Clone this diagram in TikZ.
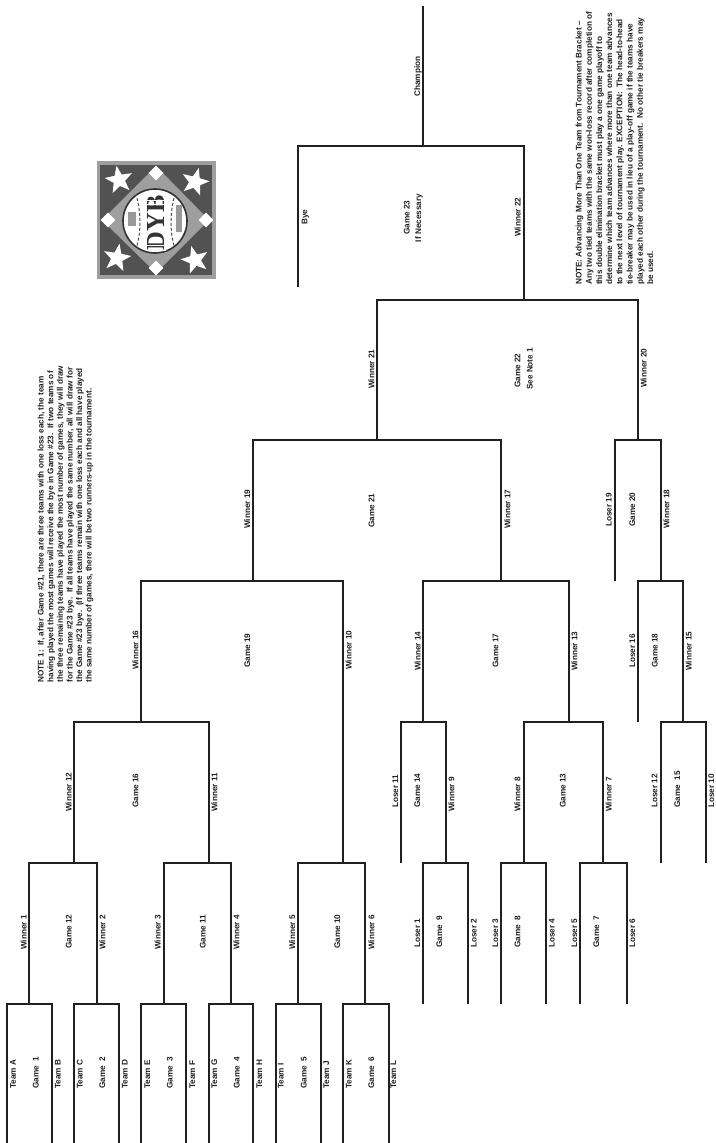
\documentclass[tikz,border=0pt]{standalone}
\usepackage{fontspec}
\setmainfont{Liberation Sans}
\newfontfamily\logofont{Liberation Serif}
\usetikzlibrary{shapes.geometric}
\definecolor{tinta}{HTML}{231F20}

\begin{document}
\begin{tikzpicture}[
    x=1pt, y=-1pt,
    font=\fontsize{8.2}{10}\selectfont\bfseries,
    linea/.style={draw=tinta, line width=1.7pt, line join=miter},
    rotulo/.style={rotate=90, anchor=base west, inner sep=0pt, text=tinta},
    nota/.style={rotate=90, anchor=north west, inner sep=0pt, align=left, text=tinta,
                 font=\fontsize{8.2}{#1}\selectfont\bfseries},
    estrella/.style={star, star points=5, star point ratio=2.4, fill=white, inner sep=0pt,
                     minimum size=29pt},
    base/.style={diamond, fill=white, inner sep=0pt, minimum size=15pt}
  ]
  \useasboundingbox (0,0) rectangle (715,1143);

  % --- Juegos ---
  \foreach \n/\x/\y in {
      g1/29/1004, g2/97/1004, g3/164/1004, g4/231/1004, g5/298/1004, g6/365/1004,
      g9/446/863, g8/524/863, g7/603/863, g15/683/722,
      g12/74/863, g11/209/863, g10/343/863, g16/141/722, g19/253/581,
      g14/423/722, g13/569/722, g17/501/581, g18/661/581, g20/638/440,
      g21/377/440, g22/524/300, g23/423/146}
    \coordinate (\n) at (\x,\y);

  % --- Extremos libres ---
  \foreach \n/\x/\y in {
      tA/7/1143, tB/52/1143, tC/74/1143, tD/119/1143, tE/141/1143, tF/186/1143,
      tG/209/1143, tH/253/1143, tI/276/1143, tJ/321/1143, tK/343/1143, tL/389/1143,
      p1/423/1004, p2/468/1004, p3/501/1004, p4/546/1004, p5/580/1004, p6/627/1004,
      p11/401/863, p12/661/863, p10/706/863, p16/638/722, p19/615/581,
      bye/298/287, champ/423/6}
    \coordinate (\n) at (\x,\y);

  % --- Llaves ---
  \foreach \a/\b in {
      tA/g1, tB/g1, tC/g2, tD/g2, tE/g3, tF/g3, tG/g4, tH/g4, tI/g5, tJ/g5, tK/g6, tL/g6,
      g1/g12, g2/g12, g3/g11, g4/g11, g5/g10, g6/g10, g12/g16, g11/g16, g16/g19, g10/g19,
      p1/g9, p2/g9, p3/g8, p4/g8, p5/g7, p6/g7, p11/g14, g9/g14, g8/g13, g7/g13,
      g14/g17, g13/g17, p12/g15, p10/g15, p16/g18, g15/g18, p19/g20, g18/g20,
      g19/g21, g17/g21, g21/g22, g20/g22, bye/g23, g22/g23}
    \draw[linea] (\a) |- (\b);
  \draw[linea] (champ) -- (g23);

  % --- Equipos y primera ronda ---
  \foreach \n/\x/\t in {
      la/16/Team A, lb/60.5/Team B, lc/82.5/Team C, ld/127.5/Team D, le/150/Team E,
      lf/195/Team F, lg/217/Team G, lh/262/Team H, li/283.7/Team I, lj/329/Team J,
      lk/351.7/Team K, ll/396/Team L, j1/38.7/Game~~1, j2/105/Game~~2, j3/172.5/Game~~3,
      j4/239.7/Game~~4, j5/306.7/Game~~5, j6/374/Game~~6}
    \node[rotulo] (\n) at (\x,1089) {\t};

  % --- Segunda ronda ---
  \foreach \n/\x/\y/\t in {
      w1/26.7/950/Winner 1, j12/71.7/949/Game 12, w2/105.3/950/Winner 2,
      w3/160.7/950/Winner 3, j11/205.7/949/Game 11, w4/239.3/950/Winner 4,
      w5/295/950/Winner 5, j10/340/949/Game 10, w6/374.3/950/Winner 6,
      x1/420/948/Loser 1, j9/442/948/Game~~9, x2/476.7/948/Loser 2,
      x3/498/948/Loser 3, j8/520.3/948/Game~~8, x4/554.7/948/Loser 4,
      x5/577/948/Loser 5, j7/599/948/Game~~7, x6/635/948/Loser 6}
    \node[rotulo] (\n) at (\x,\y) {\t};

  % --- Tercera ronda ---
  \foreach \n/\x/\y/\t in {
      w12/71.7/812/Winner 12, j16/138.3/808/Game 16, w11/217.3/812/Winner 11,
      x11/398/808/Loser 11, j14/420/808/Game 14, w9/454.3/812/Winner 9,
      w8/520.3/812/Winner 8, j13/565.7/808/Game 13, w7/611.7/812/Winner 7,
      x12/657.3/808/Loser 12, j15/680/808/Game~~15, x10/714/808/Loser 10}
    \node[rotulo] (\n) at (\x,\y) {\t};

  % --- Cuarta ronda ---
  \foreach \n/\x/\y/\t in {
      w16/138.3/670/Winner 16, j19/250/668/Game 19, w10/351.7/670/Winner 10,
      w14/420.7/671/Winner 14, j17/498.3/668/Game 17, w13/577.3/671/Winner 13,
      x16/635/668/Loser 16, j18/657.7/668/Game 18, w15/691.7/671/Winner 15}
    \node[rotulo] (\n) at (\x,\y) {\t};

  % --- Finales ---
  \foreach \n/\x/\y/\t in {
      w19/250/529/Winner 19, j21/374.3/528/Game 21, w17/510.3/529/Winner 17,
      x19/611.7/527/Loser 19, j20/635/527/Game 20, w18/669.3/529/Winner 18,
      w21/374.3/389/Winner 21, j22/520.3/388/Game 22, sn1/532.7/390/See Note 1,
      w20/646.7/388/Winner 20, lbye/307.3/225/Bye, j23/409.7/235/Game 23,
      ifn/421/242.3/If Necessary, w22/520.7/237/Winner 22, lchamp/420/96.7/Champion}
    \node[rotulo] (\n) at (\x,\y) {\t};

  % --- Notas ---
  \node[nota=9.6] (nota1) at (37.6,682.7)
       {NOTE 1:\ \ If, after Game \#21, there are three teams with one loss each, the team\\
        having played the most games will receive the bye in Game \#23.\ \ If two teams of\\
        the three remaining teams have played the most number of games, they will draw\\
        for the Game \#23 bye.\ \ If all teams have played the same number, all will draw for\\
        the Game \#23 bye.\ \ (If three teams remain with one loss each and all have played\\
        the same number of games, there will be two runners-up in the tournament.};
  \node[nota=10.2] (nota2) at (575.5,285)
       {NOTE: Advancing More Than One Team from Tournament Bracket --\\
        Any two tied teams with the same won-loss record after completion of\\
        this double elimination bracket must play a one game playoff to\\
        determine which team advances where more than one team advances\\
        to the next level of tournament play. EXCEPTION:\ \ The head-to-head\\
        tie-breaker may be used in lieu of a play-off game if the teams have\\
        played each other during the tournament.\ \ No other tie breakers may\\
        be used.};

  % --- Logo ---
  \fill[black!38] (97,161) rectangle (216,279);
  \fill[black!68] (100,165) rectangle (212,275);
  \fill[black!38] (156,166) -- (209,220) -- (156,273) -- (102,220) -- cycle;
  \foreach \n/\x/\y/\g in {s1/119/180/10, s2/195/182/-15, s3/117/258/-10, s4/195/260/15}
    \node[estrella, rotate=\g] (\n) at (\x,\y) {};
  \node[base] (b1) at (156,173) {};
  \node[base] (b2) at (206,220) {};
  \node[base] (b3) at (156,268) {};
  \node[base] (b4) at (108,220) {};
  \draw[black!80, fill=white, line width=1.6pt] (155,221) circle (32);
  \node[rotate=90, inner sep=0pt, text=black!80, font=\logofont\fontsize{26}{26}\selectfont\bfseries]
       (dyb) at (156,223) {DYB};
  \foreach \y in {200,204,245,250}
    \draw[white, line width=0.9pt] (146,\y) -- (166,\y);
  \draw[black!70, line width=1pt, densely dashed] (137,198) .. controls (141,215) and (141,230) .. (137,246);
  \draw[black!70, line width=1pt, densely dashed] (174,198) .. controls (170,215) and (170,230) .. (174,246);
  \fill[black!40] (128,212) rectangle (136,226);
  \fill[black!40] (176,205) rectangle (182,232);
\end{tikzpicture}
\end{document}
